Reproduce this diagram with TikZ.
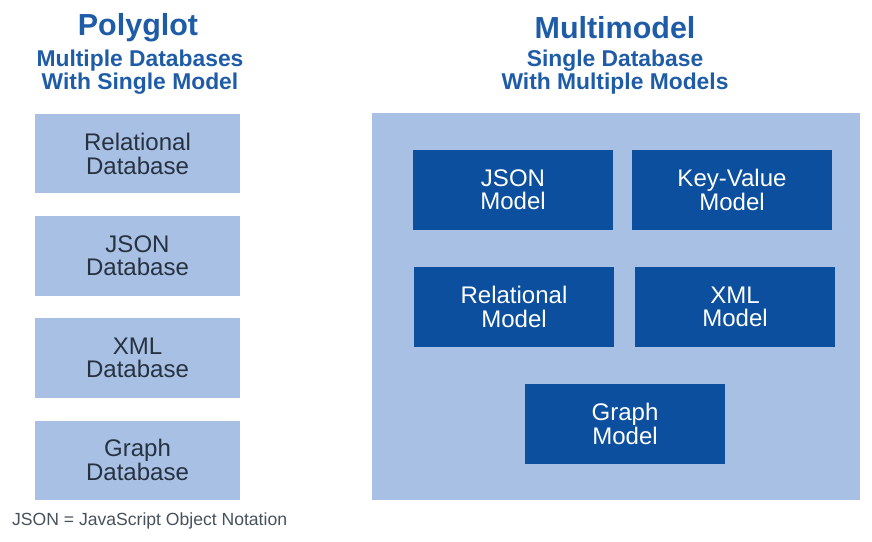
\documentclass[tikz,border=0pt]{standalone}
\usepackage{fontspec}
\setmainfont{Liberation Sans}
\usetikzlibrary{positioning}

\definecolor{lightblue}{HTML}{A9C0E5}
\definecolor{darkblue}{HTML}{0B4F9E}
\definecolor{titleblue}{HTML}{1F5CA8}
\definecolor{boxtext}{HTML}{26323F}

\begin{document}
\begin{tikzpicture}[
  x=0.03cm, y=-0.03cm,
  dbbox/.style={rectangle, fill=lightblue, align=center, text=boxtext,
                minimum width=6.12cm, minimum height=2.37cm, inner sep=0pt,
                font=\fontsize{20.5}{20}\selectfont},
  modelbox/.style={rectangle, fill=darkblue, align=center, text=white,
                   minimum width=6cm, minimum height=2.4cm, inner sep=0pt,
                   font=\fontsize{20.5}{20}\selectfont},
  heading/.style={text=titleblue, font=\fontsize{26}{28}\selectfont\bfseries},
  subheading/.style={text=titleblue, align=center,
                     font=\fontsize{19.5}{17.5}\selectfont\bfseries},
  note/.style={text=boxtext!85, font=\fontsize{15}{16}\selectfont}
]
\useasboundingbox (0,0) rectangle (872,542);

% ---- Headings ----
\node[heading] (polyt) at (138, 28) {Polyglot};
\node[subheading] (polys) at (140, 72) {Multiple Databases\\With Single Model};
\node[heading] (multt) at (615, 28) {Multimodel};
\node[subheading] (mults) at (615, 72) {Single Database\\With Multiple Models};

% ---- Polyglot: one database per model ----
\node[dbbox] (reldb) at (137.5, 154) {Relational\\Database};
\node[dbbox] (jsondb) at (137.5, 256) {JSON\\Database};
\node[dbbox] (xmldb) at (137.5, 358) {XML\\Database};
\node[dbbox] (graphdb) at (137.5, 460) {Graph\\Database};

% ---- Multimodel: one database, many models ----
\node[fill=lightblue, minimum width=14.64cm, minimum height=11.61cm,
      inner sep=0pt] (mm) at (616, 306.5) {};

\node[modelbox] (jsonm) at (513, 190) {JSON\\Model};
\node[modelbox] (kvm) at (732, 190) {Key-Value\\Model};
\node[modelbox] (relm) at (514, 307) {Relational\\Model};
\node[modelbox] (xmlm) at (735, 307) {XML\\Model};
\node[modelbox] (graphm) at (625, 424) {Graph\\Model};

% ---- Footnote ----
\node[note, anchor=west] (abbr) at (8, 521) {JSON = JavaScript Object Notation};

\end{tikzpicture}
\end{document}
